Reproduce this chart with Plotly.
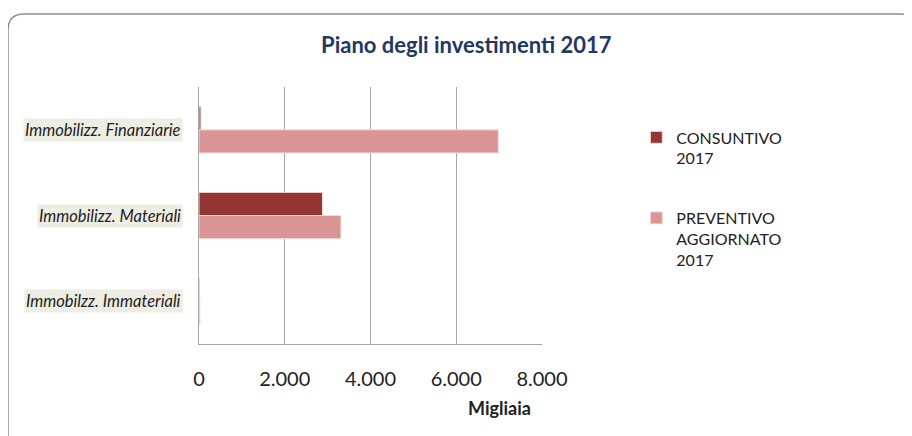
import plotly.graph_objects as go

# data
categories = ["Immobilzz. Immateriali", "Immobilizz. Materiali", "Immobilizz. Finanziarie"]
consuntivo_2017 = [15, 2880, 45]
preventivo_aggiornato_2017 = [20, 3310, 6980]
tick_values = [0, 2000, 4000, 6000, 8000]
tick_labels = ["0", "2.000", "4.000", "6.000", "8.000"]

fig = go.Figure()

# preventivo first so it sits below consuntivo in each group
fig.add_trace(go.Bar(
    y=categories,
    x=preventivo_aggiornato_2017,
    orientation="h",
    name="PREVENTIVO<br>AGGIORNATO<br>2017",
    legendgroup="prev",
    legendrank=2,
    marker=dict(color="#D99594", line=dict(color="#F2DCDB", width=1)),
))
fig.add_trace(go.Bar(
    y=categories,
    x=consuntivo_2017,
    orientation="h",
    name="CONSUNTIVO<br>2017",
    legendgroup="cons",
    legendrank=1,
    marker=dict(color="#943634", line=dict(color="#F2DCDB", width=1)),
))

# the page has an 8px body margin, so the figure is drawn from (8, 8)
fig.update_layout(
    width=904,
    height=428,
    margin=dict(l=191, r=370, t=79, b=92),
    paper_bgcolor="white",
    plot_bgcolor="white",
    barmode="group",
    bargap=0.46,
    bargroupgap=0.0,
    font=dict(family="Lato, Open Sans, sans-serif", color="#222222"),
    title=dict(
        text="<b>Piano degli investimenti 2017</b>",
        font=dict(size=22, color="#1F3864", family="Lato, sans-serif"),
        x=0.507,
        xref="container",
        xanchor="center",
        y=0.914,
        yref="container",
        yanchor="middle",
    ),
    legend=dict(
        x=1.275,
        y=0.87,
        xanchor="left",
        yanchor="top",
        traceorder="grouped",
        font=dict(size=16, color="#222222"),
        tracegroupgap=36,
        itemwidth=30,
        valign="top",
        bgcolor="rgba(0,0,0,0)",
    ),
    showlegend=True,
)

fig.update_xaxes(
    range=[0, 8000],
    tickvals=tick_values,
    ticktext=tick_labels,
    tickfont=dict(size=20, color="#222222"),
    ticklabelstandoff=17,
    showgrid=True,
    gridcolor="#A6A6A6",
    gridwidth=1,
    showline=True,
    linecolor="#A6A6A6",
    linewidth=1,
    zeroline=False,
    fixedrange=True,
)

fig.update_yaxes(
    categoryorder="array",
    categoryarray=categories,
    showticklabels=False,
    showline=True,
    linecolor="#A6A6A6",
    linewidth=1,
    showgrid=False,
    zeroline=False,
)

# category labels with the beige background
for cat in categories:
    fig.add_annotation(
        x=0,
        xref="paper",
        y=cat,
        yref="y",
        text="<i>" + cat + "</i>",
        showarrow=False,
        xanchor="right",
        xshift=-16,
        font=dict(size=16.5, color="#222222", family="Lato, sans-serif"),
        bgcolor="#EEEDE3",
        borderpad=1,
    )

# axis title
fig.add_annotation(
    x=0.877,
    xref="paper",
    xanchor="center",
    y=-0.249,
    yref="paper",
    yanchor="middle",
    text="<b>Migliaia</b>",
    showarrow=False,
    font=dict(size=18, color="#222222"),
)

# rounded chart border, expressed in paper units of the plot area
x0, x1 = (8 - 199) / 343, (916 - 199) / 343
y1, y0 = (344 - 14) / 257, (344 - 440) / 257
rx, ry = 16 / 343, 16 / 257
path = (
    f"M {x0},{y0} L {x0},{y1 - ry} Q {x0},{y1} {x0 + rx},{y1} "
    f"L {x1 - rx},{y1} Q {x1},{y1} {x1},{y1 - ry} L {x1},{y0}"
)
fig.add_shape(
    type="path",
    path=path,
    xref="paper",
    yref="paper",
    line=dict(color="#8C8C8C", width=1.5),
)

fig.write_html("out.html")
